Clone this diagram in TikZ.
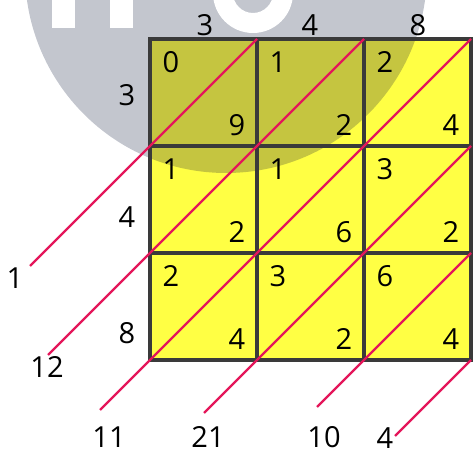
\documentclass[tikz,border=0pt]{standalone}
\usepackage{fontspec}
\setmainfont{Open Sans}
\begin{document}
\begin{tikzpicture}
\definecolor{logogray}{RGB}{195,198,206}
\definecolor{cellyellow}{RGB}{255,255,68}
\definecolor{cellolive}{RGB}{197,197,64}
\definecolor{gridgray}{RGB}{58,58,58}
\definecolor{diagred}{RGB}{228,22,90}
\tikzset{digit/.style={font=\fontsize{16.5}{19}\selectfont},
	gridline/.style={gridgray,line width=2.2pt},
	diag/.style={diagred,line width=1.3pt}}
	\useasboundingbox (0,0) rectangle (9.46,9.1);
	\clip (0,0) rectangle (9.46,9.1);
	% watermark behind the grid
	\fill[logogray] (4.52,9.66) circle (4.02);
	\fill[white] (1.04,8.54) rectangle (1.5,9.2);
	\fill[white] (2.2,8.54) rectangle (2.66,9.2);
	\fill[white,even odd rule] (5.06,9.24) circle (0.8) (5.06,9.24) circle (0.4);
	% grid corners
	\foreach \i in {0,...,3}
		\foreach \j in {0,...,3}
			\coordinate (c\i\j) at ({3+2.14*\i},{1.9+2.14*\j});
	\fill[cellyellow] (c00) rectangle (c33);
	\begin{scope}
		\clip (4.52,9.66) circle (4.02);
		\fill[cellolive] (c00) rectangle (c33);
	\end{scope}
	\foreach \i in {1,2} {
		\draw[gridline] (c\i0) -- (c\i3);
		\draw[gridline] (c0\i) -- (c3\i);
	}
	\draw[gridline] (c00) rectangle (c33);
	% free ends of the diagonals
	\coordinate (e1) at (0.6,3.78);
	\coordinate (e2) at (0.96,2.0);
	\coordinate (e3) at (2.0,0.9);
	\coordinate (e4) at (4.08,0.84);
	\coordinate (e5) at (6.34,0.96);
	\coordinate (e6) at (7.9,0.38);
	\draw[diag] (e1) -- (c13);
	\draw[diag] (e2) -- (c23);
	\draw[diag] (e3) -- (c33);
	\draw[diag] (e4) -- (c32);
	\draw[diag] (e5) -- (c31);
	\draw[diag] (e6) -- (c30);
	% digits in the cells
	\foreach \tl/\br [count=\k from 0] in {0/9,1/2,2/4,1/2,1/6,3/2,2/4,3/2,6/4} {
		\pgfmathtruncatemacro{\row}{\k/3}
		\pgfmathtruncatemacro{\col}{mod(\k,3)}
		\node[digit] (tl\k) at ({3.42+2.14*\col},{7.86-2.14*\row}) {\tl};
		\node[digit] (br\k) at ({4.74+2.14*\col},{6.6-2.14*\row}) {\br};
	}
	% factors
	\node[digit] (top1) at (4.1,8.6){3};
	\node[digit] (top2) at (6.2,8.6){4};
	\node[digit] (top3) at (8.36,8.6){8};
	\node[digit] (left1) at (2.54,7.2){3};
	\node[digit] (left2) at (2.54,4.76){4};
	\node[digit] (left3) at (2.54,2.44){8};
	% sums
	\node[digit] (s1) at (0.3,3.54){1};
	\node[digit] (s2) at (0.94,1.76){12};
	\node[digit] (s3) at (2.18,0.36){11};
	\node[digit] (s4) at (4.16,0.36){21};
	\node[digit] (s5) at (6.48,0.36){10};
	\node[digit] (s6) at (7.7,0.34){4};
\end{tikzpicture}
\end{document}
